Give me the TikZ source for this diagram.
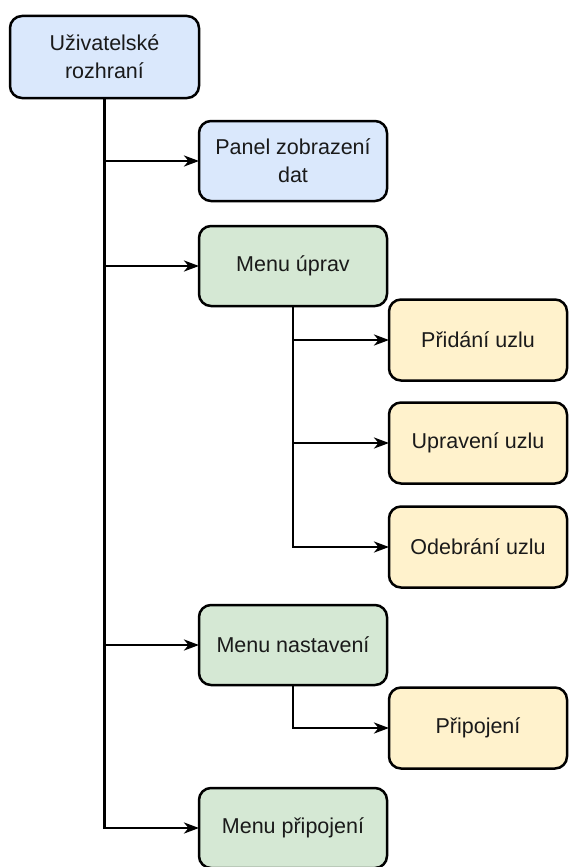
\documentclass[tikz,border=0pt]{standalone}
\usepackage{fontspec}
\setmainfont{Liberation Sans}
\usetikzlibrary{arrows.meta}

\definecolor{bluefill}{HTML}{DAE8FC}
\definecolor{greenfill}{HTML}{D5E8D4}
\definecolor{yellowfill}{HTML}{FFF2CC}
\definecolor{ink}{HTML}{1A1A1A}

\begin{document}
\begin{tikzpicture}[x=1pt,y=-1pt,
  box/.style={draw=black, line width=2.5pt, rounded corners=12pt,
    inner sep=0pt, outer sep=0pt, align=center, text=ink,
    font=\fontsize{21.5}{28}\selectfont},
  topbox/.style={box, fill=bluefill, minimum width=189pt, minimum height=82pt},
  bluebox/.style={box, fill=bluefill, minimum width=188pt, minimum height=80pt},
  greenbox/.style={box, fill=greenfill, minimum width=188pt, minimum height=80pt},
  leafbox/.style={box, fill=yellowfill, minimum width=178pt, minimum height=81pt},
  link/.style={draw=black, line width=2.7pt,
    -{Stealth[length=15pt,width=11pt,inset=4.5pt]}}
]
\useasboundingbox (0,0) rectangle (569,867);
\clip (0,0) rectangle (569,867);

% main window and its panels
\node[topbox]   (ui)    at (104.5,57)  {Uživatelské\\rozhraní};
\node[bluebox]  (panel) at (293,161)   {Panel zobrazení\\dat};
\node[greenbox] (edit)  at (293,266)   {Menu úprav};
\node[greenbox] (sett)  at (293,645)   {Menu nastavení};
\node[greenbox] (conn)  at (293,828)   {Menu připojení};

% edit actions
\node[leafbox] (add)  at (478,340) {Přidání uzlu};
\node[leafbox] (mod)  at (478,443) {Upravení uzlu};
\node[leafbox] (del)  at (478,547) {Odebrání uzlu};

% settings item
\node[leafbox] (pair) at (478,728) {Připojení};

% trunk from the main window
\draw[link] (ui.south) |- (panel.west);
\draw[link] (ui.south) |- (edit.west);
\draw[link] (ui.south) |- (sett.west);
\draw[link] (ui.south) |- (conn.west);

% edit menu branches
\draw[link] (edit.south) |- (add.west);
\draw[link] (edit.south) |- (mod.west);
\draw[link] (edit.south) |- (del.west);

% settings menu branch
\draw[link] (sett.south) |- (pair.west);
\end{tikzpicture}
\end{document}
